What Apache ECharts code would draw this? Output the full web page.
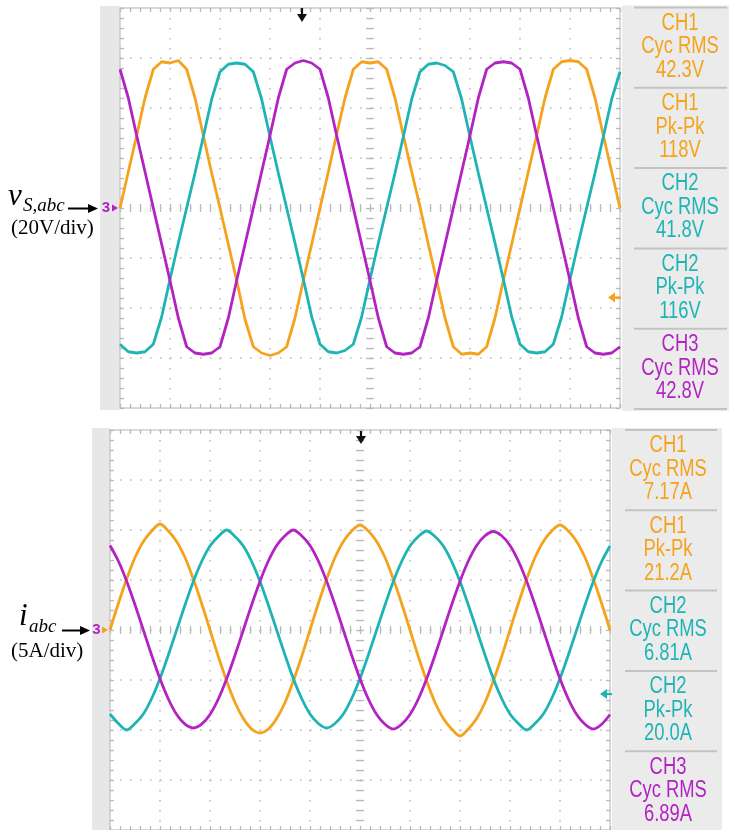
<!DOCTYPE html>
<html>
<head>
<meta charset="utf-8">
<script src="https://cdn.jsdelivr.net/npm/echarts@6/dist/echarts.min.js"></script>
<style>
  html, body { margin: 0; padding: 0; background: #ffffff; }
  #scope { width: 731px; height: 830px; }
</style>
</head>
<body>
<div id="scope"></div>
<script>
// Time base: 10 divisions at 5 ms/div, one sample every 15 degrees of the 20 ms period
const SAMPLE_STEP_MS = 50 / 60;

// Source phase voltages v_S,abc (V), 20 V/div
const vSa = [0, 14.5, 29, 44, 55.5, 58.5, 58, 59, 55.5, 44, 29, 14,
  0, -14.5, -29, -44.5, -55.5, -58, -59, -58, -55.5, -44, -29, -14.5,
  0, 14.5, 29.5, 44, 55.5, 58.5, 58, 58.5, 55.5, 44, 29, 14.5,
  0.5, -14.5, -29, -44, -55.5, -58.5, -58, -58.5, -55.5, -44, -29, -14.5,
  0, 14.5, 29, 44, 55.5, 58.5, 59, 58.5, 55.5, 44, 29, 14.5, 0];
const vSb = [-54.5, -57.5, -58, -57.5, -54.5, -43.5, -28.5, -14,
  0, 14, 28.5, 43.5, 54.5, 57.5, 58, 57.5, 54.5, 43.5, 28.5, 14,
  0, -14, -28.5, -43.5, -54.5, -57.5, -58, -57, -54.5, -43.5, -28.5, -14,
  0, 14, 28.5, 43.5, 54.5, 57.5, 58, 57, 54.5, 43.5, 28.5, 14,
  0, -14, -28.5, -43.5, -54.5, -57.5, -58, -57.5, -54.5, -43.5, -28.5, -14,
  0, 14, 28.5, 43.5, 54.5];
const vSc = [55.5, 44, 29, 14.5,
  0, -14.5, -29, -44, -55.5, -58, -58.5, -58, -55.5, -44, -29, -14.5,
  0, 14.5, 29, 44, 55.5, 58, 59, 58, 55.5, 44, 29, 14.5,
  0, -14.5, -29, -44, -55.5, -58, -58.5, -58, -55.5, -44, -29, -14.5,
  0, 14.5, 29, 44, 55.5, 58, 58.5, 58, 55.5, 44, 29, 14.5,
  0, -14.5, -29, -44, -55.5, -58, -58.5, -58, -55.5];

// Line currents i_abc (A), 5 A/div
const ia = [0, 2.65, 5.1, 7.25, 8.85, 9.9, 10.6, 9.9, 8.85, 7.25, 5.1, 2.65,
  0, -2.65, -5.1, -7.25, -8.85, -9.9, -10.3, -9.9, -8.85, -7.25, -5.1, -2.65,
  0, 2.65, 5.1, 7.25, 8.85, 9.9, 10.5, 9.9, 8.85, 7.25, 5.1, 2.65,
  0, -2.65, -5.1, -7.25, -8.85, -9.9, -10.6, -9.9, -8.85, -7.25, -5.1, -2.65,
  0, 2.65, 5.1, 7.25, 8.85, 9.9, 10.5, 9.9, 8.85, 7.25, 5.1, 2.65, 0];
const ib = [-8.4, -9.35, -10.0, -9.35, -8.4, -6.85, -4.85, -2.5,
  0, 2.5, 4.85, 6.85, 8.4, 9.35, 10.0, 9.35, 8.4, 6.85, 4.85, 2.5,
  0, -2.5, -4.85, -6.85, -8.4, -9.35, -9.8, -9.35, -8.4, -6.85, -4.85, -2.5,
  0, 2.5, 4.85, 6.85, 8.4, 9.35, 9.9, 9.35, 8.4, 6.85, 4.85, 2.5,
  0, -2.5, -4.85, -6.85, -8.4, -9.35, -10.0, -9.35, -8.4, -6.85, -4.85, -2.5,
  0, 2.5, 4.85, 6.85, 8.4];
const ic = [8.45, 6.9, 4.88, 2.52,
  0, -2.52, -4.88, -6.9, -8.45, -9.42, -9.8, -9.42, -8.45, -6.9, -4.88, -2.52,
  0, 2.52, 4.88, 6.9, 8.45, 9.42, 10.0, 9.42, 8.45, 6.9, 4.88, 2.52,
  0, -2.52, -4.88, -6.9, -8.45, -9.42, -9.9, -9.42, -8.45, -6.9, -4.88, -2.52,
  0, 2.52, 4.88, 6.9, 8.45, 9.42, 9.85, 9.42, 8.45, 6.9, 4.88, 2.52,
  0, -2.52, -4.88, -6.9, -8.45, -9.42, -9.9, -9.42, -8.45];

// Measurement readouts shown beside each screen
const voltReadouts = [
  ['CH1', 'Cyc RMS', '42.3V'],
  ['CH1', 'Pk-Pk', '118V'],
  ['CH2', 'Cyc RMS', '41.8V'],
  ['CH2', 'Pk-Pk', '116V'],
  ['CH3', 'Cyc RMS', '42.8V']
];
const currReadouts = [
  ['CH1', 'Cyc RMS', '7.17A'],
  ['CH1', 'Pk-Pk', '21.2A'],
  ['CH2', 'Cyc RMS', '6.81A'],
  ['CH2', 'Pk-Pk', '20.0A'],
  ['CH3', 'Cyc RMS', '6.89A']
];

const CH_COLORS = { CH1: '#f5a21c', CH2: '#1fb4b4', CH3: '#b323c4' };
const GRID_DOT = '#bdbdbd';
const TICK = '#b9b9b9';

// Screen layout (10 x 8 divisions, 50 px per division)
const screens = [
  { left: 120, top: 8, width: 500, height: 400, range: [-80, 80], step: 20 },
  { left: 110, top: 430, width: 500, height: 400, range: [-20, 20], step: 5 }
];

function scopeAxis(dim, gridIndex, position, offset, range, interval, opts) {
  return {
    type: 'value', gridIndex, position, offset,
    min: range[0], max: range[1], interval,
    axisLabel: { show: false },
    axisLine: { show: opts.line, onZero: false, lineStyle: { color: '#cdcdcd', width: 1.5 } },
    axisTick: { show: true, inside: true, length: 4, lineStyle: { color: TICK, width: 1.3 } },
    minorTick: { show: true, splitNumber: 5, length: 4, lineStyle: { color: TICK, width: 1.3 } },
    splitLine: { show: opts.split, lineStyle: { color: GRID_DOT, width: 1.6, type: [1.6, 8.4] } },
    minorSplitLine: { show: false },
    silent: true
  };
}

const xAxes = [], yAxes = [];
screens.forEach((s, g) => {
  const xr = [0, 50], halfH = s.height / 2, halfW = s.width / 2;
  xAxes.push(scopeAxis('x', g, 'bottom', 0, xr, 5, { line: true, split: true }));
  xAxes.push(scopeAxis('x', g, 'top', 0, xr, 5, { line: true, split: false }));
  xAxes.push(scopeAxis('x', g, 'bottom', -halfH, xr, 5, { line: false, split: false }));
  xAxes.push(scopeAxis('x', g, 'top', -halfH, xr, 5, { line: false, split: false }));
  yAxes.push(scopeAxis('y', g, 'left', 0, s.range, s.step, { line: true, split: true }));
  yAxes.push(scopeAxis('y', g, 'right', 0, s.range, s.step, { line: true, split: false }));
  yAxes.push(scopeAxis('y', g, 'left', -halfW, s.range, s.step, { line: false, split: false }));
  yAxes.push(scopeAxis('y', g, 'right', -halfW, s.range, s.step, { line: false, split: false }));
});

function trace(name, values, color, g, smooth) {
  return {
    name, type: 'line', xAxisIndex: g * 4, yAxisIndex: g * 4,
    data: values.map((v, i) => [i * SAMPLE_STEP_MS, v]),
    symbol: 'none', smooth, clip: true, silent: true,
    lineStyle: { color, width: 2.8 }, z: 3
  };
}

const series = [
  trace('v_Sa', vSa, CH_COLORS.CH1, 0, false),
  trace('v_Sb', vSb, CH_COLORS.CH2, 0, false),
  trace('v_Sc', vSc, CH_COLORS.CH3, 0, false),
  trace('i_a', ia, CH_COLORS.CH1, 1, 0.3),
  trace('i_b', ib, CH_COLORS.CH2, 1, 0.3),
  trace('i_c', ic, CH_COLORS.CH3, 1, 0.3)
];

// Readout panels, side strips and screen markers
const g = [];
function txt(x, y, text, font, fill, extra) {
  g.push(Object.assign({
    type: 'text', x, y, z: 20, silent: true,
    style: { text, font, fill, align: 'center', verticalAlign: 'middle',
             textAlign: 'center', textVerticalAlign: 'middle' }
  }, extra || {}));
}
function rect(x, y, w, h, fill) {
  g.push({ type: 'rect', z: 0, silent: true, shape: { x, y, width: w, height: h }, style: { fill } });
}
function seg(x1, y1, x2, y2, stroke, w) {
  g.push({ type: 'line', z: 20, silent: true, shape: { x1, y1, x2, y2 }, style: { stroke, lineWidth: w } });
}
function poly(points, fill) {
  g.push({ type: 'polygon', z: 21, silent: true, shape: { points }, style: { fill } });
}

function readoutPanel(px, pw, top, bottom, cx, sepX1, sepX2, rows) {
  rect(px, top - 2, pw, bottom - top + 4, '#ebebeb');
  const boxH = 80.3;
  for (let k = 0; k <= rows.length; k++) {
    const y = top + k * boxH;
    if (y <= bottom + 2) seg(sepX1, y, sepX2, y, '#c3c3c3', 2);
  }
  rows.forEach((r, k) => {
    const y0 = top + k * boxH;
    const col = CH_COLORS[r[0]];
    const f = '23px "Liberation Sans", Arial, sans-serif';
    txt(cx, y0 + 16, r[0], f, col, { scaleX: 0.8 });
    txt(cx, y0 + 39.5, r[1], f, col, { scaleX: 0.8 });
    txt(cx, y0 + 63, r[2], f, col, { scaleX: 0.8 });
  });
}

// upper screen frame pieces
rect(100, 6, 20, 404, '#e7e7e7');
readoutPanel(622, 107, 7.5, 409, 680, 634, 727, voltReadouts);
// lower screen frame pieces
rect(92, 428, 18, 402, '#e7e7e7');
readoutPanel(612, 110, 430, 830, 668, 625, 717, currReadouts);

// ground reference markers
txt(106, 208, '3', 'bold 15px "Liberation Sans", Arial, sans-serif', CH_COLORS.CH3);
poly([[112, 204.5], [118, 208], [112, 211.5]], CH_COLORS.CH3);
txt(96.5, 630, '3', 'bold 15px "Liberation Sans", Arial, sans-serif', CH_COLORS.CH3);
poly([[102, 626.5], [108, 630], [102, 633.5]], CH_COLORS.CH1);

// trigger position arrows
seg(302, 8, 302, 15, '#111', 2.2);
poly([[297, 14], [307, 14], [302, 22]], '#111');
seg(361, 431, 361, 437, '#111', 2.2);
poly([[356, 436], [366, 436], [361, 444]], '#111');

// trigger level arrows
poly([[608, 297.5], [615, 292.5], [615, 302.5]], CH_COLORS.CH1);
seg(614, 297.5, 621, 297.5, CH_COLORS.CH1, 2.2);
poly([[600, 694], [607, 689], [607, 699]], CH_COLORS.CH2);
seg(606, 694, 612, 694, CH_COLORS.CH2, 2.2);

// channel scale annotations
const serif = '"Liberation Serif", "Times New Roman", serif';
function label(x, y, text, font) {
  g.push({ type: 'text', x, y, z: 20, silent: true,
    style: { text, font, fill: '#000', align: 'left', verticalAlign: 'middle',
             textAlign: 'left', textVerticalAlign: 'middle' } });
}
label(8, 197, 'v', 'italic 31px ' + serif);
label(23, 206, 'S,abc', 'italic 19px ' + serif);
seg(68, 208.5, 90, 208.5, '#000', 2);
poly([[88, 204], [98, 208.5], [88, 213]], '#000');
label(11, 228, '(20V/div)', '21px ' + serif);

label(19, 617, 'i', 'italic 31px ' + serif);
label(29, 627, 'abc', 'italic 19px ' + serif);
seg(62, 630.5, 82, 630.5, '#000', 2);
poly([[80, 626], [90, 630.5], [80, 635]], '#000');
label(11, 651, '(5A/div)', '21px ' + serif);

const chart = echarts.init(document.getElementById('scope'), null, { renderer: 'canvas' });
chart.setOption({
  animation: false,
  backgroundColor: '#ffffff',
  grid: screens.map(s => ({ left: s.left, top: s.top, width: s.width, height: s.height, containLabel: false, show: false })),
  xAxis: xAxes,
  yAxis: yAxes,
  series,
  graphic: { elements: g }
});
</script>
</body>
</html>
